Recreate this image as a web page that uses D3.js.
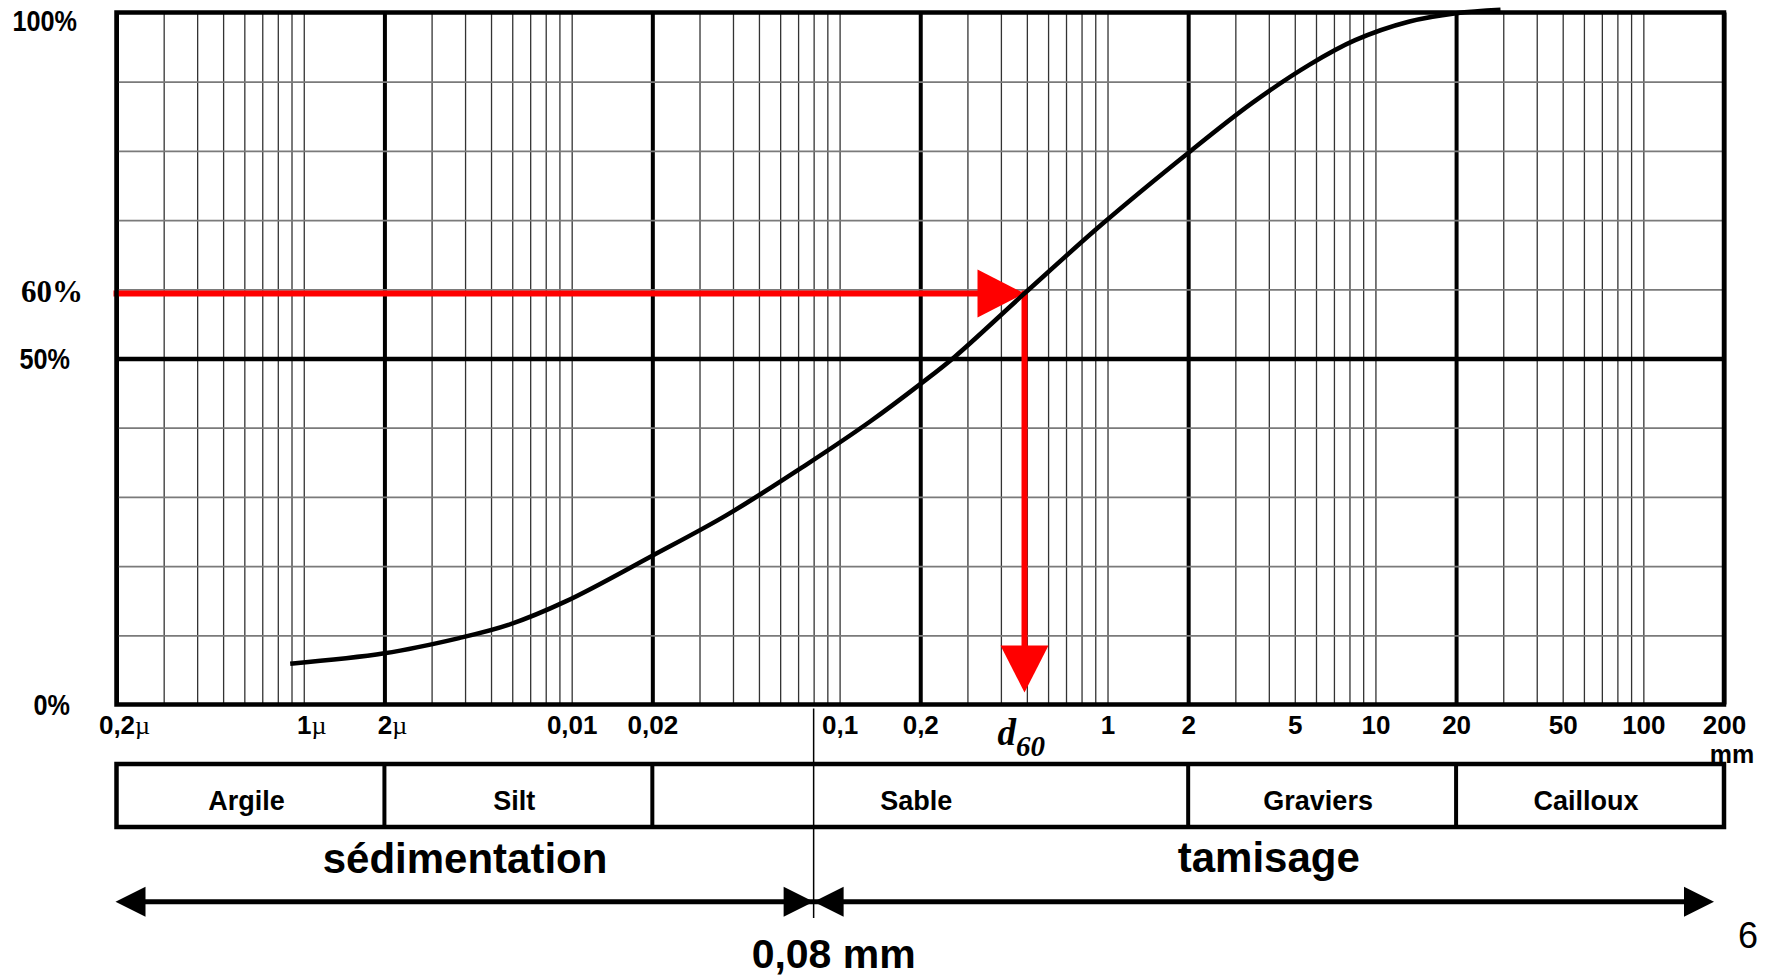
<!DOCTYPE html>
<html>
<head>
<meta charset="utf-8">
<script src="https://cdn.jsdelivr.net/npm/d3@7/dist/d3.min.js"></script>
<style>
    body { margin: 0; background: #fff; }
    svg { display: block; font-family: "Liberation Sans", Arial, sans-serif; }
</style>
</head>
<body>
<svg id="chart" width="1774" height="976"></svg>
<script>
    // courbe granulométrique : diamètre (mm) / passant cumulé (%)
    var sizeMm = [0.00089, 0.002, 0.0038, 0.0058, 0.0095, 0.02, 0.038, 0.074, 0.13, 0.2,
        0.27, 0.49, 0.96, 2, 3.46, 5.7, 8.4, 13.4, 20, 29.3];
    var passing = [5.9, 7.4, 9.6, 11.5, 14.9, 21.5, 27.4, 34.5, 40.9, 46.3,
        50.3, 59.4, 69.5, 79.7, 86.9, 92.5, 96.0, 98.7, 99.9, 100.4];

    var xTickValues = [0.0002, 0.001, 0.002, 0.01, 0.02, 0.1, 0.2, 1, 2, 5, 10, 20, 50, 100, 200];
    var xTickLabels = ["0,2µ", "1µ", "2µ", "0,01", "0,02", "0,1", "0,2", "1", "2", "5", "10", "20", "50", "100", "200"];
    var yLabelValues = [100, 60, 50, 0];
    var yLabelTexts = ["100%", "60%", "50%", "0%"];
    var yGridValues = [0, 10, 20, 30, 40, 50, 60, 70, 80, 90, 100];

    var bandLimits = [0.0002, 0.002, 0.02, 2, 20, 200];
    var bandNames = ["Argile", "Silt", "Sable", "Graviers", "Cailloux"];
    var separationMm = 0.08;
    var d60 = 0.49;
    var d60Level = 59.4;

    var svg = d3.select("#chart");

    var x0 = 116.5, x1 = 1724, yTop = 12.5, yBot = 704.5;

    var x = d3.scaleLog()
        .domain([0.0002, 200])
        .range([x0, x1]);

    var y = d3.scaleLinear()
        .domain([0, 100])
        .range([yBot, yTop]);

    function leadDigit(v) {
        return Math.round(v / Math.pow(10, Math.floor(Math.log10(v) + 1e-9)));
    }

    // grille verticale (log)
    var gx = svg.append("g")
        .attr("transform", "translate(0," + yBot + ")")
        .call(d3.axisBottom(x).tickValues(x.ticks()).tickSize(-(yBot - yTop)).tickFormat(""));
    gx.select(".domain").remove();
    gx.selectAll(".tick line")
        .attr("stroke", function (d) { return leadDigit(d) === 2 ? "#000" : "#333"; })
        .attr("stroke-width", function (d) { return leadDigit(d) === 2 ? 4 : 1.3; });

    // grille horizontale
    var gy = svg.append("g")
        .attr("transform", "translate(" + x0 + ",0)")
        .call(d3.axisLeft(y).tickValues(yGridValues).tickSize(-(x1 - x0)).tickFormat(""));
    gy.select(".domain").remove();
    gy.selectAll(".tick line")
        .attr("stroke", function (d) { return d === 50 ? "#000" : "#7a7a7a"; })
        .attr("stroke-width", function (d) { return d === 50 ? 4.5 : 1.8; });

    // d60 en rouge
    var red = "#ff0000";
    var xd = x(d60), yd = y(d60Level);
    svg.append("line")
        .attr("x1", x0 - 3).attr("y1", yd)
        .attr("x2", xd - 40).attr("y2", yd)
        .attr("stroke", red).attr("stroke-width", 6);
    svg.append("path")
        .attr("d", "M" + xd + "," + yd + "L" + (xd - 47) + "," + (yd - 24) + "L" + (xd - 47) + "," + (yd + 24) + "Z")
        .attr("fill", red);
    svg.append("line")
        .attr("x1", xd).attr("y1", yd - 3)
        .attr("x2", xd).attr("y2", yBot - 50)
        .attr("stroke", red).attr("stroke-width", 6);
    var tipY = yBot - 12;
    svg.append("path")
        .attr("d", "M" + xd + "," + tipY + "L" + (xd - 24) + "," + (tipY - 47) + "L" + (xd + 24) + "," + (tipY - 47) + "Z")
        .attr("fill", red);

    // courbe
    var line = d3.line()
        .curve(d3.curveCatmullRom.alpha(0.5))
        .x(function (d) { return x(d[0]); })
        .y(function (d) { return y(d[1]); });

    svg.append("path")
        .datum(d3.zip(sizeMm, passing))
        .attr("d", line)
        .attr("fill", "none")
        .attr("stroke", "#000")
        .attr("stroke-width", 4.5);

    // cadre
    svg.append("rect")
        .attr("x", x0).attr("y", yTop)
        .attr("width", x1 - x0).attr("height", yBot - yTop)
        .attr("fill", "none")
        .attr("stroke", "#000")
        .attr("stroke-width", 4.5);

    // libellés axe X
    var ax = svg.append("g")
        .attr("transform", "translate(0," + yBot + ")")
        .call(d3.axisBottom(x).tickValues(xTickValues).tickSize(0).tickPadding(11)
            .tickFormat(function (d, i) { return xTickLabels[i].replace("µ", ""); }));
    ax.select(".domain").remove();
    ax.selectAll(".tick line").remove();
    ax.selectAll(".tick text")
        .attr("font-family", "Liberation Sans, Arial, sans-serif")
        .attr("font-size", 26)
        .attr("font-weight", "bold")
        .attr("fill", "#000")
        .each(function (d, i) {
            if (xTickLabels[i].indexOf("µ") < 0) return;
            var t = d3.select(this);
            var w = this.getComputedTextLength();
            t.attr("text-anchor", "start").attr("x", -w / 2);
            t.append("tspan")
                .attr("font-family", "Liberation Serif, serif")
                .attr("font-weight", "normal")
                .text("µ");
        });

    svg.append("text")
        .attr("x", x(200) + 8).attr("y", yBot + 58)
        .attr("text-anchor", "middle")
        .attr("font-size", 25).attr("font-weight", "bold")
        .text("mm");

    // libellés axe Y
    yLabelValues.forEach(function (v, i) {
        var base = v === 100 ? y(v) + 18 : (v === 60 ? y(d60Level) + 9 : y(v) + 10.5);
        if (v === 60) {
            svg.append("text")
                .attr("x", 83).attr("y", base)
                .attr("text-anchor", "end")
                .attr("font-family", "Liberation Serif, 'Times New Roman', serif")
                .attr("font-size", 31).attr("font-weight", "bold")
                .text(yLabelTexts[i]);
        } else {
            svg.append("text")
                .attr("transform", "translate(" + (v === 100 ? 77 : 70) + "," + base + ") scale(0.87,1)")
                .attr("text-anchor", "end")
                .attr("font-size", 29).attr("font-weight", "bold")
                .text(yLabelTexts[i]);
        }
    });

    // d60
    var dl = svg.append("text")
        .attr("x", xd - 27).attr("y", yBot + 40)
        .attr("font-family", "Liberation Serif, 'Times New Roman', serif")
        .attr("font-style", "italic").attr("font-weight", "bold")
        .attr("font-size", 37);
    dl.append("tspan").text("d");
    dl.append("tspan").attr("font-size", 29).attr("dy", 11).text("60");

    // tableau des classes
    var tTop = 764, tBot = 827;
    var tab = svg.append("g");
    tab.append("rect")
        .attr("x", x0).attr("y", tTop)
        .attr("width", x1 - x0).attr("height", tBot - tTop)
        .attr("fill", "none").attr("stroke", "#000").attr("stroke-width", 4.5);
    tab.selectAll("line.band")
        .data(bandLimits.slice(1, -1))
        .enter().append("line")
        .attr("class", "band")
        .attr("x1", function (d) { return x(d); }).attr("x2", function (d) { return x(d); })
        .attr("y1", tTop).attr("y2", tBot)
        .attr("stroke", "#000").attr("stroke-width", 4);
    tab.selectAll("text")
        .data(bandNames)
        .enter().append("text")
        .attr("x", function (d, i) { return x(Math.sqrt(bandLimits[i] * bandLimits[i + 1])) - 4; })
        .attr("y", 810)
        .attr("text-anchor", "middle")
        .attr("font-size", 27).attr("font-weight", "bold")
        .text(function (d) { return d; });

    // séparation sédimentation / tamisage
    var xs = x(separationMm);
    svg.append("line")
        .attr("x1", xs).attr("x2", xs)
        .attr("y1", yBot + 4).attr("y2", 918)
        .attr("stroke", "#000").attr("stroke-width", 1.5);

    var ay = 901.7, xr = x1 - 10;
    svg.append("line")
        .attr("x1", x0 + 10).attr("x2", xr - 10)
        .attr("y1", ay).attr("y2", ay)
        .attr("stroke", "#000").attr("stroke-width", 5);

    function head(tip, dir) {
        return "M" + tip + "," + ay + "L" + (tip - dir * 30) + "," + (ay - 15) + "L" + (tip - dir * 30) + "," + (ay + 15) + "Z";
    }
    svg.selectAll("path.head")
        .data([[x0 - 1, -1], [xs, 1], [xs, -1], [xr, 1]])
        .enter().append("path")
        .attr("class", "head")
        .attr("d", function (d) { return head(d[0], d[1]); })
        .attr("fill", "#000");

    svg.append("text")
        .attr("x", (x0 + xs) / 2).attr("y", 873)
        .attr("text-anchor", "middle")
        .attr("font-size", 42).attr("font-weight", "bold")
        .text("sédimentation");
    svg.append("text")
        .attr("x", (xs + x1) / 2).attr("y", 872)
        .attr("text-anchor", "middle")
        .attr("font-size", 42).attr("font-weight", "bold")
        .text("tamisage");
    svg.append("text")
        .attr("x", xs - 62).attr("y", 968)
        .attr("font-size", 41).attr("font-weight", "bold")
        .text("0,08 mm");

    svg.append("text")
        .attr("x", 1738).attr("y", 948)
        .attr("font-size", 36)
        .text("6");
</script>
</body>
</html>
